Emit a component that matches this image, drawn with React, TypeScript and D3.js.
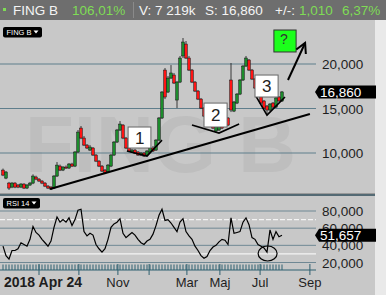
import React from 'react';
import * as d3 from 'd3';

const W = 386;
const H = 295;
const FONT = 'Liberation Sans, Arial, sans-serif';

// ---- price data (one candle per bar) ----
const opens = [8080, 7180, 6620, 6170, 6620, 6400, 6170, 6510, 6060, 6400,
  6620, 7300, 7070, 6850, 6620, 6280, 6170, 6060, 7410, 8530,
  8080, 8420, 8310, 8760, 8530, 10110, 12800, 11680, 10890, 10330,
  10560, 9770, 9090, 8530, 8080, 7860, 8530, 9770, 11230, 12580,
  13140, 11680, 10560, 10110, 10330, 10110, 9770, 9990, 9770, 10110,
  10560, 10330, 11450, 13930, 19320, 16850, 18420, 18760, 15950, 17970,
  20900, 22240, 20670, 19320, 17970, 16960, 16060, 15050, 14150, 13480,
  13030, 12470, 12580, 13140, 13480, 13930, 18200, 14710, 15610, 16620,
  18200, 19770, 20450, 19320, 18310, 17300, 16400, 15840, 15280, 14830,
  15610, 15160, 16290, 15840];
const highs = [8250, 7980, 6750, 6730, 6720, 6520, 6620, 6600, 6520, 6750,
  7600, 7450, 7180, 6950, 6730, 6400, 6280, 7520, 8980, 8700,
  8530, 8600, 8870, 8900, 10220, 12580, 13030, 11900, 11000, 10890,
  10670, 9880, 9200, 8640, 8200, 8760, 9880, 11340, 12700, 13590,
  13250, 11790, 10670, 10450, 10450, 10220, 10110, 10110, 10330, 10670,
  10780, 11560, 14040, 16960, 19550, 18650, 19880, 18990, 18090, 20900,
  22920, 22580, 20900, 19440, 18090, 17080, 16180, 15160, 14260, 13590,
  13140, 13140, 13250, 13250, 13590, 14040, 20110, 15840, 16740, 18310,
  19880, 20900, 20560, 19440, 18420, 17410, 16510, 15950, 15390, 15610,
  15730, 16290, 16400, 16960];
const lows = [7400, 7060, 5850, 6050, 6050, 6050, 6060, 5950, 5950, 6300,
  6500, 6950, 6750, 6500, 6170, 5950, 5840, 5950, 7300, 7970,
  7970, 8200, 8200, 8420, 8420, 10000, 11560, 10780, 10450, 10220,
  9660, 8980, 8420, 7860, 7630, 7750, 8420, 9660, 11120, 12470,
  11560, 10450, 10110, 10000, 9880, 9660, 9660, 9550, 9660, 9990,
  10110, 10220, 11340, 13820, 16060, 16740, 18310, 17750, 15050, 17860,
  20670, 20560, 19210, 17860, 16850, 15950, 14940, 14040, 13370, 12920,
  12690, 12350, 12470, 12690, 12920, 13030, 14600, 14600, 15500, 16510,
  18090, 19660, 19210, 18200, 17190, 16290, 15500, 14940, 14380, 14710,
  15050, 15050, 15730, 15730];
const closes = [7520, 7860, 6060, 6620, 6170, 6170, 6510, 6060, 6400, 6620,
  7410, 7070, 6850, 6620, 6280, 6060, 5950, 7410, 8640, 8080,
  8420, 8310, 8760, 8530, 10110, 12350, 11680, 10890, 10560, 10670,
  9770, 9090, 8530, 7970, 7750, 8640, 9770, 11230, 12580, 13250,
  11680, 10560, 10220, 10330, 9990, 9770, 9990, 9660, 10220, 10560,
  10220, 11450, 13930, 16850, 16290, 18420, 18990, 17860, 17970, 20670,
  22470, 20670, 19320, 17970, 16960, 16060, 15050, 14150, 13480, 13030,
  12800, 13030, 13140, 12800, 13030, 13140, 14830, 15730, 16620, 18200,
  19770, 20670, 19320, 18310, 17300, 16400, 15610, 15050, 14830, 15500,
  15160, 16180, 15850, 16860];

// ---- RSI 14 ----
const rsi = [39, 28, 24, 34, 34, 36, 43, 41, 39, 47,
  62, 55, 52, 47, 43, 39, 45, 61, 73, 67,
  70, 67, 72, 63, 70, 81, 82, 56, 51, 54,
  52, 41, 36, 32, 36, 47, 61, 65, 67, 71,
  54, 49, 52, 55, 52, 47, 43, 41, 45, 47,
  53, 63, 75, 82, 69, 70, 66, 61, 56, 67,
  71, 56, 51, 47, 39, 34, 28, 25, 27, 34,
  38, 40, 44, 47, 46, 41, 72, 54, 55, 56,
  67, 72, 64, 49, 47, 41, 39, 37, 32, 58,
  47, 56, 50, 51.657];

// ---- axes ----
const priceTicks = [10000, 15000, 20000];
const rsiTicks = [20, 40, 60, 80];
const rsiBands = [30, 70];
const firstDateLabel = '2018 Apr 24';
const monthTickIdx = [12, 25.3, 38.3, 48.7, 61.3, 72.3, 85.7, 102.3];
const monthLabels = ['', '', 'Nov', '', 'Mar', 'Maj', 'Jul', 'Sep'];

// ---- annotations (bar index, price) ----
const trendline: [number, number][] = [[15.7, 5950], [102.3, 14380]];
const vShapes: [number, number][][] = [
  [[41.3, 10220], [48, 9660], [53, 11450]],
  [[63, 13140], [72, 12240], [78.7, 13250]],
  [[84.3, 16400], [88, 14260], [94, 16290]],
];
const boxLabels = ['1', '2', '3'];
const boxIdx: [number, number][] = [[41.7, 49.3], [67, 74.7], [84, 91.7]];
const boxPrice: [number, number][] = [[12920, 10560], [15610, 12920], [18760, 16290]];
const qBoxIdx: [number, number] = [90.3, 97.7];
const qBoxPrice: [number, number] = [23820, 21350];
const arrowPts: [number, number][] = [[95, 18200], [100.7, 22360]];
const rsiCircle = { idx: 88.2, value: 30.5 };

const header = [
  { t: 'FING B', x: 13, c: '#f4f4f4' },
  { t: '106,01%', x: 72, c: '#7fdc55' },
  { t: 'V: 7 219k', x: 139, c: '#f4f4f4' },
  { t: 'S: 16,860', x: 205, c: '#f4f4f4' },
  { t: '+/-:', x: 275, c: '#f4f4f4' },
  { t: '1,010', x: 299, c: '#7fdc55' },
  { t: '6,37%', x: 342, c: '#7fdc55' },
];

const fmt = (v: number) => d3.format(',.0f')(v);
const fmt3 = (v: number) => d3.format(',.3f')(v).replace('.', ',');
const fmtAxis = (v: number) => d3.format(',.3f')(v / 1000).replace('.', ',');

export default function App() {
  const N = closes.length;
  const x = d3.scaleLinear().domain([0, N - 1]).range([3, 282]);
  const yp = d3.scaleLinear().domain([10000, 20000]).range([153, 64]);
  const yr = d3.scaleLinear().domain([20, 80]).range([262.5, 211]);
  const gridRight = 316;

  const rsiLine = d3.line<number>().x((_, i) => x(i)).y((d) => yr(d))(rsi) || '';
  const lineP = d3.line<[number, number]>().x((d) => x(d[0])).y((d) => yp(d[1]));

  const lastPrice = closes[N - 1];
  const lastRsi = rsi[N - 1];

  const tag = (yc: number, label: string, key: string) => (
    <g key={key}>
      <path d={`M315,${yc} L319,${yc - 6.5} L376,${yc - 6.5} L376,${yc + 6.5} L319,${yc + 6.5} Z`} fill="#000" />
      <text x={320} y={yc + 4.6} fill="#fff" fontSize={13.5} fontFamily={FONT}>{label}</text>
    </g>
  );

  const ax0 = x(arrowPts[0][0]), ay0 = yp(arrowPts[0][1]);
  const ax1 = x(arrowPts[1][0]), ay1 = yp(arrowPts[1][1]);
  const ang = Math.atan2(ay1 - ay0, ax1 - ax0);
  const hl = 11;
  const b1 = [ax1 - hl * Math.cos(ang - 0.5), ay1 - hl * Math.sin(ang - 0.5)];
  const b2 = [ax1 - hl * Math.cos(ang + 0.5), ay1 - hl * Math.sin(ang + 0.5)];

  return (
    <svg width={W} height={H} style={{ position: 'fixed', left: 0, top: 0 }} fontFamily={FONT}>
      <defs>
        <clipPath id="mainClip"><rect x={0} y={20} width={375} height={173} /></clipPath>
      </defs>
      <rect x={0} y={0} width={W} height={H} fill="#c8c8c8" />
      <rect x={375} y={20} width={11} height={H - 20} fill="#e9e9e9" />
      <rect x={0} y={0} width={W} height={20} fill="#6e6e6e" />
      <rect x={3} y={8} width={3} height={3} fill="#7fdc55" />
      <line x1={133.5} x2={133.5} y1={2} y2={18} stroke="#8a8a8a" />
      {header.map((h) => (
        <text key={h.t} x={h.x} y={15} fill={h.c} fontSize={13.5}>{h.t}</text>
      ))}

      <g clipPath="url(#mainClip)">
        <text x={25} y={172} fontSize={80} fontWeight="bold" fill="#bebebe">FING B</text>
        {priceTicks.map((t) => (
          <line key={t} x1={0} x2={gridRight} y1={yp(t)} y2={yp(t)} stroke="#5f7e8c" strokeWidth={1} />
        ))}
        {closes.map((c, i) => {
          const o = opens[i];
          const up = c >= o;
          const yt = yp(Math.max(o, c));
          const yb = yp(Math.min(o, c));
          return (
            <g key={i}>
              <line x1={x(i)} x2={x(i)} y1={yp(highs[i])} y2={yp(lows[i])} stroke="#111" strokeWidth={0.8} />
              <rect x={x(i) - 1.3} y={yt} width={2.6} height={Math.max(1, yb - yt)}
                fill={up ? '#1c8c2c' : '#ff1414'} stroke="#111" strokeWidth={0.5} />
            </g>
          );
        })}
        <path d={lineP(trendline) || ''} stroke="#000" strokeWidth={2} fill="none" />
        {vShapes.map((v, k) => (
          <path key={k} d={lineP(v) || ''} stroke="#000" strokeWidth={1.6} fill="none" />
        ))}
        {boxLabels.map((lab, k) => {
          const bx = x(boxIdx[k][0]);
          const bw = x(boxIdx[k][1]) - bx;
          const by = yp(boxPrice[k][0]);
          const bh = yp(boxPrice[k][1]) - by;
          return (
            <g key={lab}>
              <rect x={bx} y={by} width={bw} height={bh} fill="#fff" stroke="#666" strokeWidth={1} />
              <text x={bx + 7} y={by + bh / 2 + 6} fontSize={17} fill="#222">{lab}</text>
            </g>
          );
        })}
        {(() => {
          const bx = x(qBoxIdx[0]);
          const bw = x(qBoxIdx[1]) - bx;
          const by = yp(qBoxPrice[0]);
          const bh = yp(qBoxPrice[1]) - by;
          return (
            <g>
              <rect x={bx} y={by} width={bw} height={bh} fill="#1cff1c" stroke="#333" strokeWidth={1} />
              <text x={bx + 6} y={by + 14} fontSize={14} fill="#333">?</text>
            </g>
          );
        })()}
        <line x1={ax0} y1={ay0} x2={ax1} y2={ay1} stroke="#000" strokeWidth={2} />
        <path d={`M${b1[0]},${b1[1]} L${ax1},${ay1} L${b2[0]},${b2[1]}`} stroke="#000" strokeWidth={2} fill="none" />
        <rect x={3} y={27} width={39} height={10.5} rx={2} fill="#000" />
        <text x={6.5} y={35} fontSize={7.5} fill="#fff">FING B</text>
        <path d="M33.5,30.5 L38.5,30.5 L36,33.5 Z" fill="#fff" />
      </g>
      {priceTicks.map((t) => (
        <text key={t} x={322} y={yp(t) + 5} fontSize={13.5} fill="#1e1e1e">{fmt(t)}</text>
      ))}
      {tag(yp(lastPrice), fmt(lastPrice), 'pt')}

      <line x1={0} x2={375} y1={193.5} y2={193.5} stroke="#9a9a9a" />
      <line x1={0} x2={375} y1={195} y2={195} stroke="#2e4b59" strokeWidth={1.5} />

      {rsiTicks.map((t) => (
        <line key={t} x1={0} x2={gridRight} y1={yr(t)} y2={yr(t)} stroke="#6f8894" strokeWidth={1} />
      ))}
      {rsiBands.map((t) => (
        <line key={t} x1={0} x2={gridRight} y1={yr(t)} y2={yr(t)} stroke="#f4f4f4" strokeWidth={1.3}
          strokeDasharray={t === 70 ? '5,2' : undefined} />
      ))}
      <path d={rsiLine} stroke="#000" strokeWidth={1.2} fill="none" />
      <ellipse cx={x(rsiCircle.idx)} cy={yr(rsiCircle.value)} rx={9.5} ry={7.5} fill="none" stroke="#000" strokeWidth={1.2} />
      <rect x={3} y={198} width={37} height={10.5} rx={2} fill="#000" />
      <text x={6.5} y={206} fontSize={7.5} fill="#fff">RSI 14</text>
      <path d="M31.5,201.5 L36.5,201.5 L34,204.5 Z" fill="#fff" />
      {rsiTicks.map((t) => (
        <text key={t} x={322} y={yr(t) + 5} fontSize={13.5} fill="#1e1e1e">{fmtAxis(t * 1000)}</text>
      ))}
      {tag(yr(lastRsi), fmt3(lastRsi), 'rt')}

      {closes.map((_, i) => (
        <line key={i} x1={x(i)} x2={x(i)} y1={264.5} y2={270} stroke="#2f6070" strokeWidth={1} />
      ))}
      <line x1={0} x2={gridRight} y1={270} y2={270} stroke="#2f6070" />
      {monthTickIdx.map((m, k) => (
        <line key={k} x1={x(m)} x2={x(m)} y1={264} y2={275} stroke="#2f6070" strokeWidth={1} />
      ))}
      <text x={4} y={287} fontSize={14} fontWeight="bold" fill="#1e1e1e">{firstDateLabel}</text>
      {monthLabels.map((l, k) => l ? (
        <text key={k} x={x(monthTickIdx[k])} y={287} fontSize={13} textAnchor="middle" fill="#1e1e1e">{l}</text>
      ) : null)}
    </svg>
  );
}
